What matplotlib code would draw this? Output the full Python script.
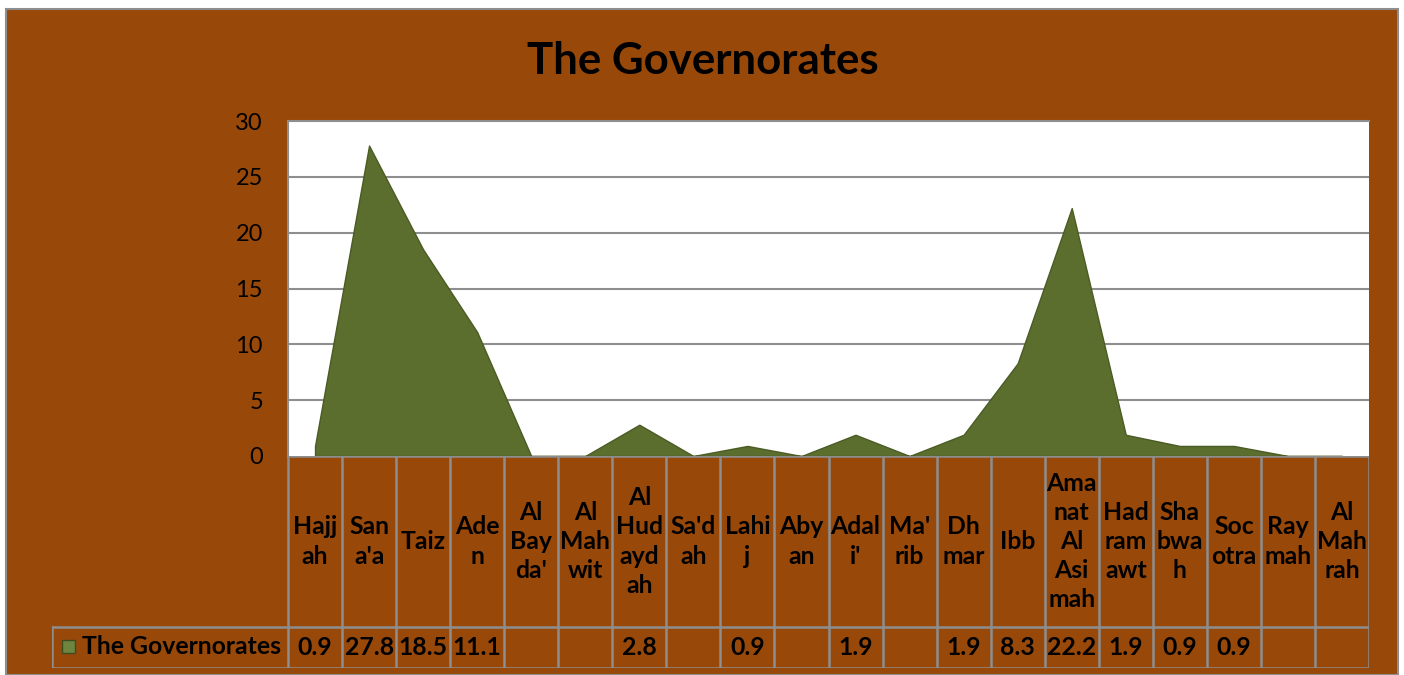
import numpy as np
import matplotlib
matplotlib.use("Agg")
import matplotlib.pyplot as plt
from matplotlib.patches import Rectangle

# ---- data ----
categories = ["Hajjah", "Sana'a", "Taiz", "Aden", "Al Bayda'", "Al Mahwit", "Al Hudaydah",
              "Sa'dah", "Lahij", "Abyan", "Adali'", "Ma'rib", "Dhmar", "Ibb",
              "Amanat Al Asimah", "Hadramawt", "Shabwah", "Socotra", "Raymah", "Al Mahrah"]
category_labels = ["Hajj\nah", "San\na'a", "Taiz", "Ade\nn", "Al\nBay\nda'", "Al\nMah\nwit",
                   "Al\nHud\nayd\nah", "Sa'd\nah", "Lahi\nj", "Aby\nan", "Adal\ni'", "Ma'\nrib",
                   "Dh\nmar", "Ibb", "Ama\nnat\nAl\nAsi\nmah", "Had\nram\nawt", "Sha\nbwa\nh",
                   "Soc\notra", "Ray\nmah", "Al\nMah\nrah"]
values = [0.9, 27.8, 18.5, 11.1, None, None, 2.8, None, 0.9, None, 1.9, None,
          1.9, 8.3, 22.2, 1.9, 0.9, 0.9, None, None]
series_name = "The Governorates"
title = "The Governorates"
yticks = [0, 5, 10, 15, 20, 25, 30]

# ---- layout ----
W, H = 1404, 675
BROWN = "#984808"
GRAY = "#8E8E8E"
GREEN = "#5B6E2E"
FONT = "Lato"
TFS = 17.8

def fx(px):
    return px / W

def fy(py):
    return 1 - py / H

fig = plt.figure(figsize=(W / 100, H / 100), dpi=100, facecolor="white")
fig.patches.append(Rectangle((fx(6), fy(675)), fx(1398) - fx(6), fy(9) - fy(675),
                             transform=fig.transFigure, facecolor=BROWN,
                             edgecolor=GRAY, linewidth=1.5, zorder=-10))

fig.text(fx(703), fy(61), title, ha="center", va="center", fontsize=31.5,
         fontweight="bold", family=FONT, color="black")

# plot area
PL, PR, PT, PB = 288, 1369, 121, 456
ax = fig.add_axes([fx(PL), fy(PB), fx(PR) - fx(PL), fy(PT) - fy(PB)])
ax.set_facecolor("white")
n = len(categories)
x = np.arange(n)
vals = np.array([v if v is not None else 0.0 for v in values])
ax.fill_between(x, 0, vals, color=GREEN, edgecolor="#4B5B24", linewidth=1.0, zorder=3)
ax.set_xlim(-0.5, n - 0.5)
ax.set_ylim(0, 30)
ax.set_yticks(yticks)
ax.set_yticklabels([str(t) for t in yticks], fontsize=17, family=FONT)
ax.tick_params(axis="y", length=0, pad=18)
ax.set_xticks([])
for yv in yticks[1:-1]:
    ax.axhline(yv, color=GRAY, linewidth=1.5, zorder=1)
for s in ["left", "top"]:
    ax.spines[s].set_color(GRAY)
    ax.spines[s].set_linewidth(1.5)
ax.spines["right"].set_visible(False)
ax.spines["bottom"].set_visible(False)

# data table
TL, TT, TB = 52, 456, 668
VR = 627  # top of value row
unit = (PR - PL) / n
legw = (PL - TL) / unit
axt = fig.add_axes([fx(TL), fy(TB), fx(PR) - fx(TL), fy(TT) - fy(TB)])
axt.set_xlim(-0.5 - legw, n - 0.5)
axt.set_ylim(0, TB - TT)
axt.axis("off")
hrow = TB - VR
top = TB - TT
lw = 1.8
for i in range(n + 1):
    axt.plot([i - 0.5, i - 0.5], [0, top], color=GRAY, lw=lw, solid_capstyle="butt")
axt.plot([-0.5 - legw, -0.5 - legw], [0, hrow], color=GRAY, lw=lw)
axt.plot([-0.5, n - 0.5], [top, top], color=GRAY, lw=lw)
axt.plot([-0.5 - legw, n - 0.5], [hrow, hrow], color=GRAY, lw=lw)
axt.plot([-0.5 - legw, n - 0.5], [0, 0], color=GRAY, lw=lw)
for i, lab in enumerate(category_labels):
    axt.text(i, (hrow + top) / 2, lab, ha="center", va="center", multialignment="center",
             fontsize=TFS, fontweight="bold", family=FONT, linespacing=1.32)
for i, v in enumerate(values):
    if v is not None:
        axt.text(i, hrow / 2, f"{v:.1f}", ha="center", va="center",
                 fontsize=TFS, fontweight="bold", family=FONT)

# legend key in table
fig.patches.append(Rectangle((fx(62), fy(653)), fx(75) - fx(62), fy(640) - fy(653),
                             transform=fig.transFigure, facecolor="#6E8540",
                             edgecolor="#3E4C1E", linewidth=1))
fig.text(fx(82), fy(647), series_name, ha="left", va="center", fontsize=TFS,
         fontweight="bold", family=FONT)

fig.savefig("out.png", dpi=100, facecolor="white")
